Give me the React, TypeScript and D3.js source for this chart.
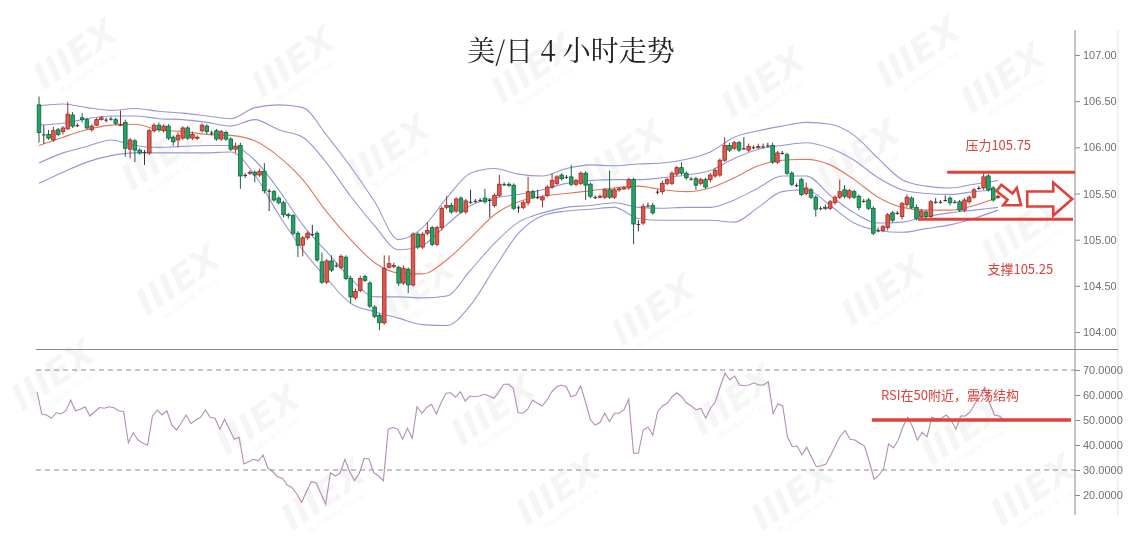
import React, { useEffect, useRef } from "react";
import * as d3 from "d3";

// [open, high, low, close], 4-hour candles
const ohlc: [number, number, number, number][] = [
  [106.46, 106.55, 106.05, 106.16], [106.14, 106.24, 106.04, 106.14], [106.14, 106.19, 106.08, 106.1], [106.08, 106.22, 106.06, 106.18],
  [106.19, 106.21, 106.12, 106.14], [106.17, 106.23, 106.14, 106.21], [106.2, 106.49, 106.19, 106.36], [106.35, 106.38, 106.21, 106.23],
  [106.24, 106.26, 106.22, 106.24], [106.32, 106.37, 106.27, 106.3], [106.3, 106.32, 106.19, 106.21], [106.19, 106.25, 106.17, 106.23],
  [106.24, 106.32, 106.23, 106.3], [106.3, 106.34, 106.29, 106.32], [106.3, 106.32, 106.27, 106.3], [106.31, 106.33, 106.29, 106.31],
  [106.3, 106.32, 106.24, 106.26], [106.24, 106.4, 106.23, 106.25], [106.27, 106.3, 105.9, 105.99], [105.98, 106.1, 105.88, 106.08],
  [106.07, 106.09, 105.84, 105.97], [105.97, 105.99, 105.92, 105.94], [105.95, 105.97, 105.81, 105.95], [105.94, 106.2, 105.92, 106.18],
  [106.18, 106.26, 106.16, 106.24], [106.24, 106.27, 106.17, 106.19], [106.18, 106.25, 106.16, 106.23], [106.23, 106.25, 106.08, 106.1],
  [106.11, 106.13, 106.02, 106.06], [106.08, 106.16, 106.0, 106.13], [106.1, 106.23, 106.08, 106.21], [106.21, 106.23, 106.08, 106.1],
  [106.1, 106.17, 106.08, 106.14], [106.1, 106.13, 106.08, 106.11], [106.18, 106.26, 106.16, 106.24], [106.23, 106.25, 106.14, 106.17],
  [106.16, 106.18, 106.13, 106.16], [106.18, 106.2, 106.07, 106.09], [106.09, 106.19, 106.07, 106.17], [106.16, 106.18, 106.07, 106.09],
  [106.09, 106.11, 105.96, 105.98], [105.98, 106.05, 105.94, 106.01], [106.02, 106.05, 105.55, 105.69], [105.7, 105.72, 105.67, 105.7],
  [105.72, 105.75, 105.7, 105.73], [105.73, 105.75, 105.62, 105.7], [105.7, 105.77, 105.68, 105.74], [105.74, 105.83, 105.5, 105.53],
  [105.53, 105.55, 105.31, 105.53], [105.52, 105.54, 105.41, 105.43], [105.45, 105.47, 105.38, 105.4], [105.4, 105.42, 105.24, 105.27],
  [105.27, 105.29, 105.23, 105.26], [105.26, 105.28, 105.05, 105.07], [105.07, 105.09, 104.81, 104.94], [104.94, 105.04, 104.82, 105.02],
  [105.02, 105.09, 105.0, 105.07], [105.06, 105.16, 105.04, 105.06], [105.07, 105.09, 104.76, 104.78], [104.76, 104.86, 104.52, 104.54],
  [104.54, 104.79, 104.52, 104.77], [104.77, 104.83, 104.65, 104.67], [104.72, 104.75, 104.7, 104.72], [104.7, 104.84, 104.68, 104.82],
  [104.81, 104.83, 104.56, 104.58], [104.58, 104.61, 104.31, 104.38], [104.37, 104.47, 104.35, 104.44], [104.45, 104.61, 104.43, 104.58],
  [104.6, 104.62, 104.54, 104.56], [104.53, 104.55, 104.26, 104.28], [104.27, 104.29, 104.15, 104.17], [104.18, 104.2, 104.02, 104.1],
  [104.1, 104.83, 104.08, 104.69], [104.7, 104.83, 104.69, 104.74], [104.71, 104.75, 104.69, 104.72], [104.7, 104.72, 104.5, 104.53],
  [104.53, 104.72, 104.51, 104.69], [104.68, 104.7, 104.42, 104.51], [104.51, 105.08, 104.49, 105.06], [105.06, 105.08, 104.9, 104.92],
  [104.92, 105.08, 104.9, 105.06], [105.07, 105.19, 105.05, 105.1], [105.13, 105.15, 104.93, 104.95], [104.95, 105.15, 104.93, 105.13],
  [105.13, 105.36, 105.1, 105.34], [105.35, 105.47, 105.33, 105.37], [105.37, 105.4, 105.28, 105.3], [105.31, 105.46, 105.29, 105.44],
  [105.45, 105.47, 105.28, 105.3], [105.3, 105.44, 105.28, 105.42], [105.41, 105.54, 105.39, 105.41], [105.42, 105.44, 105.4, 105.42],
  [105.43, 105.45, 105.41, 105.43], [105.45, 105.55, 105.39, 105.41], [105.43, 105.45, 105.24, 105.43], [105.37, 105.5, 105.35, 105.48],
  [105.48, 105.7, 105.46, 105.6], [105.6, 105.62, 105.58, 105.6], [105.6, 105.62, 105.57, 105.59], [105.59, 105.61, 105.32, 105.34],
  [105.35, 105.37, 105.29, 105.35], [105.35, 105.42, 105.33, 105.4], [105.4, 105.68, 105.37, 105.52], [105.52, 105.54, 105.44, 105.46],
  [105.46, 105.54, 105.44, 105.46], [105.43, 105.48, 105.35, 105.46], [105.48, 105.59, 105.46, 105.57], [105.57, 105.72, 105.55, 105.64],
  [105.61, 105.7, 105.59, 105.68], [105.7, 105.72, 105.64, 105.66], [105.68, 105.7, 105.66, 105.68], [105.68, 105.81, 105.58, 105.6],
  [105.6, 105.66, 105.58, 105.64], [105.61, 105.74, 105.59, 105.72], [105.72, 105.74, 105.43, 105.59], [105.6, 105.62, 105.45, 105.47],
  [105.46, 105.48, 105.44, 105.46], [105.46, 105.49, 105.45, 105.47], [105.46, 105.56, 105.44, 105.54], [105.54, 105.75, 105.44, 105.46],
  [105.46, 105.56, 105.44, 105.54], [105.54, 105.57, 105.52, 105.55], [105.55, 105.58, 105.54, 105.56], [105.56, 105.67, 105.54, 105.65],
  [105.65, 105.67, 104.95, 105.17], [105.17, 105.21, 105.09, 105.17], [105.18, 105.39, 105.16, 105.36], [105.37, 105.4, 105.35, 105.37],
  [105.37, 105.4, 105.27, 105.29], [105.52, 105.54, 105.49, 105.52], [105.52, 105.64, 105.49, 105.61], [105.61, 105.67, 105.59, 105.65],
  [105.61, 105.74, 105.59, 105.72], [105.71, 105.8, 105.69, 105.78], [105.78, 105.84, 105.7, 105.72], [105.72, 105.74, 105.65, 105.67],
  [105.66, 105.68, 105.64, 105.66], [105.66, 105.68, 105.54, 105.59], [105.61, 105.67, 105.59, 105.65], [105.65, 105.67, 105.55, 105.57],
  [105.65, 105.72, 105.62, 105.7], [105.69, 105.78, 105.67, 105.75], [105.7, 105.88, 105.68, 105.86], [105.86, 106.11, 105.84, 106.02],
  [106.02, 106.05, 105.95, 105.97], [105.99, 106.07, 105.97, 106.05], [106.05, 106.07, 105.95, 105.97], [105.99, 106.11, 105.97, 105.99],
  [105.97, 106.04, 105.95, 106.01], [106.0, 106.02, 105.98, 106.0], [106.0, 106.04, 105.98, 106.01], [106.01, 106.04, 105.99, 106.01],
  [106.02, 106.05, 106.0, 106.02], [106.02, 106.05, 105.82, 105.84], [105.84, 105.96, 105.82, 105.94], [105.94, 105.96, 105.92, 105.94],
  [105.92, 105.94, 105.7, 105.72], [105.72, 105.74, 105.58, 105.6], [105.59, 105.61, 105.57, 105.59], [105.65, 105.67, 105.47, 105.49],
  [105.5, 105.62, 105.48, 105.56], [105.54, 105.56, 105.44, 105.46], [105.46, 105.48, 105.25, 105.33], [105.34, 105.36, 105.32, 105.34],
  [105.35, 105.38, 105.32, 105.34], [105.34, 105.43, 105.32, 105.41], [105.4, 105.48, 105.38, 105.46], [105.46, 105.65, 105.44, 105.52],
  [105.54, 105.59, 105.45, 105.47], [105.46, 105.55, 105.44, 105.53], [105.52, 105.54, 105.44, 105.46], [105.47, 105.49, 105.32, 105.35],
  [105.42, 105.44, 105.4, 105.42], [105.43, 105.45, 105.32, 105.34], [105.34, 105.36, 105.05, 105.07], [105.1, 105.13, 105.08, 105.1],
  [105.1, 105.16, 105.08, 105.14], [105.13, 105.29, 105.1, 105.27], [105.29, 105.31, 105.19, 105.21], [105.29, 105.31, 105.27, 105.29],
  [105.25, 105.41, 105.22, 105.39], [105.38, 105.49, 105.35, 105.46], [105.45, 105.47, 105.33, 105.35], [105.35, 105.38, 105.21, 105.23],
  [105.25, 105.33, 105.22, 105.31], [105.3, 105.32, 105.22, 105.25], [105.25, 105.43, 105.22, 105.41], [105.41, 105.45, 105.39, 105.41],
  [105.41, 105.43, 105.39, 105.41], [105.43, 105.48, 105.41, 105.43], [105.45, 105.47, 105.37, 105.4], [105.41, 105.43, 105.39, 105.41],
  [105.41, 105.43, 105.3, 105.32], [105.32, 105.45, 105.3, 105.43], [105.41, 105.48, 105.39, 105.46], [105.46, 105.56, 105.44, 105.54],
  [105.56, 105.58, 105.54, 105.56], [105.56, 105.72, 105.54, 105.68], [105.69, 105.71, 105.52, 105.54], [105.56, 105.58, 105.41, 105.43],
  [105.46, 105.49, 105.44, 105.47],
];

// Bollinger lines, read every 5th candle
const bandIdx = [0, 5, 10, 15, 20, 25, 30, 35, 40, 45, 50, 55, 60, 65, 70, 75, 80, 85, 90, 95, 100, 105, 110, 115, 120, 125, 130, 135, 140, 145, 150, 155, 160, 165, 170, 175, 180, 185, 190, 195, 200];
const upper2 = [106.45, 106.47, 106.43, 106.4, 106.42, 106.39, 106.37, 106.34, 106.31, 106.43, 106.46, 106.43, 106.13, 105.79, 105.41, 105.0, 105.13, 105.45, 105.72, 105.77, 105.71, 105.69, 105.77, 105.81, 105.8, 105.82, 105.83, 105.87, 105.95, 106.11, 106.18, 106.23, 106.27, 106.25, 106.13, 105.88, 105.65, 105.58, 105.56, 105.6, 105.64];
const upper1 = [106.24, 106.26, 106.31, 106.34, 106.34, 106.31, 106.3, 106.27, 106.23, 106.3, 106.19, 106.11, 105.83, 105.47, 105.15, 104.89, 104.94, 105.16, 105.37, 105.45, 105.49, 105.54, 105.61, 105.64, 105.65, 105.65, 105.67, 105.7, 105.75, 105.88, 105.98, 106.02, 106.05, 105.99, 105.86, 105.67, 105.54, 105.5, 105.49, 105.52, 105.54];
const middle = [106.02, 106.11, 106.19, 106.24, 106.25, 106.19, 106.17, 106.14, 106.13, 106.07, 105.9, 105.65, 105.3, 105.0, 104.75, 104.64, 104.63, 104.78, 105.02, 105.27, 105.41, 105.47, 105.5, 105.53, 105.56, 105.58, 105.54, 105.52, 105.56, 105.67, 105.8, 105.86, 105.87, 105.81, 105.65, 105.46, 105.35, 105.32, 105.32, 105.37, 105.46];
const lower1 = [105.83, 105.94, 106.01, 106.08, 106.02, 106.0, 106.01, 106.02, 106.02, 105.86, 105.54, 105.16, 104.87, 104.58, 104.38, 104.38, 104.37, 104.39, 104.67, 104.96, 105.19, 105.29, 105.35, 105.37, 105.4, 105.35, 105.34, 105.35, 105.35, 105.43, 105.56, 105.69, 105.69, 105.48, 105.29, 105.18, 105.19, 105.25, 105.29, 105.32, 105.35];
const lower2 = [105.61, 105.73, 105.84, 105.91, 105.94, 105.94, 105.94, 105.94, 105.95, 105.7, 105.27, 104.89, 104.58, 104.31, 104.22, 104.15, 104.08, 104.07, 104.29, 104.69, 105.07, 105.26, 105.31, 105.33, 105.35, 105.23, 105.21, 105.21, 105.21, 105.19, 105.35, 105.52, 105.54, 105.37, 105.18, 105.1, 105.08, 105.12, 105.16, 105.23, 105.32];

const rsi = [
  61.3, 52.4, 52, 50.7, 52.9, 52.4, 53.7, 58, 53.7, 54.3, 55.3, 51.6, 53.3, 55, 54.7, 55.3, 54.9, 53.7, 53.3, 40.9,
  44.9, 42, 40.7, 40, 51.6, 54, 52, 53.7, 48, 46, 48.9, 52, 48.5, 50, 51.1, 54, 51.1, 50.7, 46.3, 50.3,
  46.3, 42.3, 43.1, 32.4, 33.3, 34.3, 33.7, 36, 30.7, 29.3, 27.3, 26.7, 24, 22.9, 20.4, 17.1, 21.3, 25.3, 24.9, 20.7,
  16.4, 28.9, 27.6, 28.7, 34.3, 29.3, 25.7, 28.7, 34.7, 34.4, 28.9, 27.6, 25.7, 46.3, 47.1, 46.3, 42.3, 46.7, 42.7, 55.3,
  52.7, 55, 56.3, 52.4, 56.9, 60.7, 60.9, 59.1, 61.3, 57.6, 59.6, 59.3, 59.6, 60.3, 59.6, 58.7, 61.3, 64.3, 64.3, 62.7,
  52.9, 52.7, 54.3, 58, 56.7, 55.6, 58, 61.3, 63.3, 64, 63.3, 59.3, 60, 63.6, 57.3, 50.3, 48, 49, 52.7, 49.3,
  52.7, 52.7, 54, 58.3, 36.7, 36.7, 46, 47.1, 44, 53.3, 55.6, 56.7, 59.3, 60.9, 59.3, 56.9, 55.6, 54, 54.7, 50.7,
  54.7, 57.3, 63.3, 68.7, 66, 67.6, 64, 63.7, 64, 64.9, 64, 64, 65.3, 52.7, 56.4, 55.6, 43.3, 39.3, 39.6, 36,
  39.1, 35.1, 31.3, 31.7, 32.4, 36, 40, 43.6, 45.7, 42.3, 42, 40.7, 39.6, 33.3, 26.3, 28, 30.7, 40.4, 38.9, 41.9,
  47.3, 51.1, 47.3, 41.9, 45.1, 43.3, 51.1, 50.4, 50.7, 52, 50, 46.3, 51.6, 51.6, 53.3, 56.7, 59.3, 63.1, 56.9, 52,
  51.6, 50,
];

const priceTicks = [107, 106.5, 106, 105.5, 105, 104.5, 104];
const rsiTicks = [70, 60, 50, 40, 30, 20];
const rsiGuides = [70, 30];
const resistance = 105.73;
const support = 105.22;
const rsiLevel = 50;

const UP = "#e2574c";
const UP_EDGE = "#9e2f25";
const DOWN = "#23a466";
const DOWN_EDGE = "#15633d";
const ANNO = "#e0413a";

export default function App() {
  const svgRef = useRef<SVGSVGElement | null>(null);

  useEffect(() => {
    if (!svgRef.current) return;
    const svg = d3.select(svgRef.current);
    svg.selectAll("*").remove();

    const n = ohlc.length;
    const x = d3.scaleLinear().domain([0, n - 1]).range([39, 998]);
    const y = d3.scaleLinear().domain([104, 107]).range([332, 55]);
    const yr = d3.scaleLinear().domain([20, 70]).range([495, 370]);
    const xr = d3.scaleLinear().domain([0, rsi.length - 1]).range([37, 1004]);

    svg.append("rect").attr("width", 1128).attr("height", 549).attr("fill", "#fff");

    // faint logo watermark
    const wm = svg.append("g").attr("opacity", 0.04);
    const spots: [number, number][] = [
      [82, 64], [300, 72], [540, 78], [770, 92], [1010, 88], [925, 62],
      [170, 165], [395, 160], [630, 165], [865, 165],
      [185, 290], [420, 300], [660, 320], [890, 300], [1030, 240],
      [60, 385], [265, 430], [500, 420], [740, 410], [970, 440],
      [330, 505], [565, 500], [800, 505], [1040, 500],
    ];
    spots.forEach(([cx, cy]) => {
      const g = wm.append("g").attr("transform", `translate(${cx},${cy}) rotate(-35)`);
      g.append("text").text("IIIEX").attr("text-anchor", "middle")
        .attr("font-family", "DejaVu Sans, sans-serif").attr("font-weight", 700)
        .attr("font-style", "italic").attr("font-size", 36).attr("fill", "#000");
      g.append("text").text("MultiBank Group").attr("text-anchor", "middle").attr("y", 13)
        .attr("font-family", "DejaVu Sans, sans-serif").attr("font-size", 8).attr("fill", "#000");
    });

    // frame
    svg.append("line").attr("x1", 1075).attr("x2", 1075).attr("y1", 30).attr("y2", 515)
      .attr("stroke", "#8a8a8a");
    svg.append("line").attr("x1", 1118).attr("x2", 1118).attr("y1", 30).attr("y2", 515)
      .attr("stroke", "#e2e2e2");
    svg.append("line").attr("x1", 36).attr("x2", 1118).attr("y1", 349.5).attr("y2", 349.5)
      .attr("stroke", "#8a8a8a");

    const axisStyle = (g: d3.Selection<SVGGElement, unknown, null, undefined>) => {
      g.select(".domain").remove();
      g.selectAll("line").attr("stroke", "#8a8a8a");
      g.selectAll("text").attr("fill", "#707070").attr("font-size", 11)
        .attr("font-family", "Liberation Sans, Arial, sans-serif");
    };
    svg.append("g").attr("transform", "translate(1075,0)")
      .call(d3.axisRight(y).tickValues(priceTicks).tickFormat(d3.format(".2f")).tickSize(5).tickPadding(3))
      .call(axisStyle);
    svg.append("g").attr("transform", "translate(1075,0)")
      .call(d3.axisRight(yr).tickValues(rsiTicks).tickFormat(d3.format(".4f")).tickSize(5).tickPadding(3))
      .call(axisStyle);

    // title
    svg.append("text").text("美/日 4 小时走势").attr("x", 571).attr("y", 61)
      .attr("text-anchor", "middle").attr("font-size", 28).attr("fill", "#222")
      .attr("font-family", "Noto Serif CJK SC, Noto Sans CJK SC, sans-serif");

    // Bollinger bands
    const band = (vals: number[]) =>
      d3.line<number>().x((_, i) => x(bandIdx[i])).y((v) => y(v)).curve(d3.curveMonotoneX)(vals);
    [upper2, upper1, lower1, lower2].forEach((vals) => {
      svg.append("path").attr("d", band(vals)).attr("fill", "none")
        .attr("stroke", "#9597d6").attr("stroke-width", 1.1);
    });
    svg.append("path").attr("d", band(middle)).attr("fill", "none")
      .attr("stroke", "#e2765e").attr("stroke-width", 1.1);

    // candles
    const bw = 3.6;
    const cg = svg.append("g");
    ohlc.forEach(([o, h, l, c], i) => {
      const up = c >= o;
      const flat = Math.abs(c - o) < 0.005;
      const edge = flat ? "#333" : up ? UP_EDGE : DOWN_EDGE;
      const cx = x(i);
      cg.append("line").attr("x1", cx).attr("x2", cx).attr("y1", y(h)).attr("y2", y(l))
        .attr("stroke", edge).attr("stroke-width", 1);
      const top = y(Math.max(o, c));
      const hgt = Math.max(1, Math.abs(y(o) - y(c)));
      cg.append("rect").attr("x", cx - bw / 2).attr("y", top).attr("width", bw).attr("height", hgt)
        .attr("fill", flat ? "#333" : up ? UP : DOWN).attr("stroke", edge).attr("stroke-width", flat ? 0 : 0.8);
    });

    // RSI
    svg.selectAll(".guide").data(rsiGuides).enter().append("line")
      .attr("x1", 36).attr("x2", 1075).attr("y1", (d) => yr(d)).attr("y2", (d) => yr(d))
      .attr("stroke", "#8c8c8c").attr("stroke-dasharray", "5,4");
    svg.append("path")
      .attr("d", d3.line<number>().x((_, i) => xr(i)).y((v) => yr(v))(rsi))
      .attr("fill", "none").attr("stroke", "#b48cb4").attr("stroke-width", 1.1);

    // annotations
    svg.append("line").attr("x1", x(189.4)).attr("x2", 1075).attr("y1", y(resistance)).attr("y2", y(resistance))
      .attr("stroke", ANNO).attr("stroke-width", 3);
    svg.append("line").attr("x1", x(183.3)).attr("x2", 1073).attr("y1", y(support)).attr("y2", y(support))
      .attr("stroke", ANNO).attr("stroke-width", 3);
    svg.append("line").attr("x1", x(173.7)).attr("x2", 1071).attr("y1", yr(rsiLevel)).attr("y2", yr(rsiLevel))
      .attr("stroke", ANNO).attr("stroke-width", 3.5);

    const label = (t: string, lx: number, ly: number) =>
      svg.append("text").text(t).attr("x", lx).attr("y", ly).attr("font-size", 13).attr("fill", ANNO)
        .attr("font-family", "Noto Sans CJK SC, sans-serif");
    label("压力105.75", x(193.2), y(105.97));
    label("支撑105.25", x(197.8), y(104.63));
    label("RSI在50附近，震荡结构", x(175.6), yr(58.2));

    // arrows
    const arrow = "M0,-4 L14,-4 L14,-11 L28,0 L14,11 L14,4 L0,4 Z";
    svg.append("path").attr("d", arrow)
      .attr("transform", `translate(${x(200.2)},${y(105.56)}) rotate(38)`)
      .attr("fill", "#fff").attr("stroke", ANNO).attr("stroke-width", 2.6).attr("stroke-linejoin", "miter");
    const big = "M0,-7.5 L26,-7.5 L26,-16.5 L45,0 L26,16.5 L26,7.5 L0,7.5 Z";
    svg.append("path").attr("d", big)
      .attr("transform", `translate(${x(206.1)},${y(105.44)})`)
      .attr("fill", "#fff").attr("stroke", ANNO).attr("stroke-width", 2.6).attr("stroke-linejoin", "miter");
  }, []);

  return (
    <svg
      ref={svgRef}
      width={1128}
      height={549}
      style={{ position: "absolute", left: 0, top: 0 }}
    ></svg>
  );
}
